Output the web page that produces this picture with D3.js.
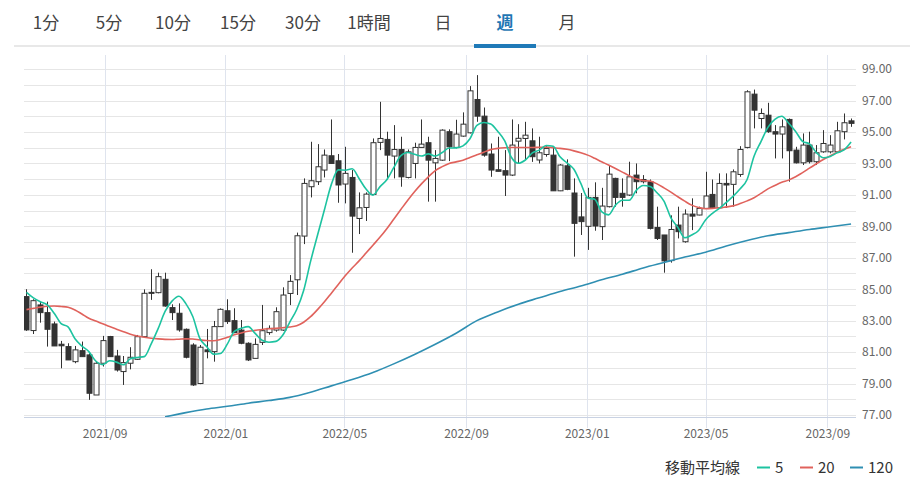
<!DOCTYPE html>
<html><head><meta charset="utf-8">
<script src="https://cdn.jsdelivr.net/npm/d3@7"></script>
<style>
html,body{margin:0;padding:0;background:#fff;}
svg{display:block;font-family:"Noto Sans CJK JP","Noto Sans",sans-serif;}
</style></head>
<body><svg id="c" width="916" height="488"></svg>
<script>
// ---------- data ----------
const tabs = ["1分","5分","10分","15分","30分","1時間","日","週","月"];
const activeTab = "週";
const firstWeek = "2021-06-14"; // weekly candles (Mondays)
const open  = [84.53,82.37,84.00,83.51,82.79,81.50,81.35,80.39,81.09,80.82,78.27,80.29,81.99,80.75,79.76,80.29,80.54,81.98,84.80,84.78,
85.63,83.83,83.47,82.45,81.45,79.00,81.14,81.03,82.62,83.63,83.00,82.40,81.56,80.60,81.62,82.24,82.40,82.40,84.73,85.60,
88.38,91.52,91.84,92.58,93.49,93.17,91.69,92.11,89.50,90.20,91.03,94.34,94.53,93.47,93.89,92.11,93.00,94.02,94.32,93.04,
93.21,95.02,94.02,94.74,94.95,97.07,96.01,93.60,92.60,92.54,92.26,94.42,94.59,94.44,93.22,93.57,93.53,91.26,92.85,91.12,
89.60,89.00,90.84,88.98,90.25,92.05,91.10,90.99,92.26,91.84,91.84,88.93,88.45,86.82,89.08,88.02,89.78,89.72,90.14,91.03,
90.18,91.73,91.67,92.30,94.02,97.41,95.86,96.07,95.02,94.87,95.80,93.85,93.04,94.17,93.11,93.74,93.74,93.74,95.02,95.71];
const high  = [85.00,84.36,84.21,84.21,82.94,81.71,81.56,81.39,81.67,80.92,80.39,82.03,82.03,81.14,80.75,81.31,82.09,84.99,86.27,86.05,
86.05,84.04,84.10,82.50,81.56,81.45,82.47,82.98,83.78,84.36,83.79,83.04,81.62,81.87,84.00,82.70,83.85,85.12,85.90,88.60,
92.05,94.38,94.23,93.89,95.80,93.60,94.06,92.58,91.16,91.16,94.59,96.92,95.02,95.44,94.70,93.89,94.32,95.80,94.70,93.85,
95.17,95.17,95.78,96.25,97.92,98.62,96.56,94.27,94.70,93.85,95.80,95.50,95.65,95.23,94.70,94.17,94.10,92.96,93.26,92.05,
91.12,91.45,91.80,91.45,92.85,92.09,92.05,93.11,93.00,92.26,91.98,90.25,88.45,89.70,90.25,90.08,90.78,90.25,92.47,91.98,
92.37,92.37,92.62,94.10,97.66,97.70,96.50,96.86,95.44,95.80,95.86,94.06,94.91,95.02,94.17,95.12,94.80,95.65,96.18,95.86];
const low   = [82.35,82.15,82.87,81.35,81.39,79.97,80.50,80.29,80.71,77.96,78.27,80.08,80.71,79.76,78.91,79.90,80.50,81.94,84.32,84.74,
83.89,83.04,82.30,80.60,78.85,78.96,80.60,80.39,82.62,82.79,82.20,81.50,80.43,80.60,81.45,82.10,82.30,82.35,83.99,84.63,
87.87,90.84,91.63,92.11,93.00,90.50,90.46,87.32,88.51,89.34,90.99,93.85,91.98,92.05,91.52,92.05,92.05,94.02,90.57,90.57,
93.17,93.15,93.96,94.70,94.91,95.65,93.43,92.15,92.50,90.93,92.20,93.00,93.21,93.10,93.00,93.43,91.26,91.24,91.30,87.07,
88.45,87.50,88.72,88.13,90.20,90.25,90.25,90.93,91.10,91.73,88.80,88.13,86.05,86.69,88.23,87.96,88.76,89.70,90.14,90.18,
90.14,90.18,90.25,92.15,93.96,95.23,95.23,94.95,93.32,93.32,91.84,93.00,92.90,93.00,92.90,93.68,93.64,93.68,94.53,95.33];
const close = [82.41,84.27,83.51,82.45,81.39,81.40,80.50,81.14,80.71,78.38,80.29,81.73,80.71,79.86,80.33,80.67,81.98,84.74,84.75,85.80,
83.93,83.51,82.41,80.67,78.91,81.31,81.03,82.62,83.72,82.94,82.24,81.56,80.50,81.49,82.36,82.51,83.57,84.63,85.50,88.40,
91.73,91.90,92.79,93.53,93.00,91.63,92.37,89.65,90.18,91.05,94.32,94.59,93.53,93.89,92.15,93.74,94.02,94.23,93.21,93.32,
95.12,94.06,94.87,95.50,97.62,96.01,93.53,92.58,92.50,92.26,94.17,94.60,94.80,93.43,93.68,93.95,91.26,92.90,91.35,89.19,
89.30,90.84,89.02,90.29,92.32,90.84,90.84,92.15,91.84,91.98,88.87,88.23,86.80,88.80,88.66,89.78,89.65,90.14,90.93,90.18,
91.73,91.63,92.47,93.89,97.56,96.39,96.18,95.02,94.87,95.33,93.81,93.04,94.17,93.11,93.68,94.27,94.17,95.08,95.59,95.55];
const ma5 = [84.80,84.45,84.20,84.00,83.47,82.81,82.60,81.85,81.38,81.03,80.43,80.20,80.45,80.36,80.19,80.58,80.66,80.71,81.52,82.49,
83.59,84.24,84.55,84.08,83.26,81.89,81.36,80.87,80.91,81.52,82.32,82.51,82.62,82.19,81.75,81.63,81.68,82.09,82.91,83.71,
84.92,86.77,88.43,90.06,91.67,92.59,92.57,92.66,92.04,91.37,90.98,91.51,91.96,92.73,93.48,93.70,93.58,93.47,93.61,93.47,
93.70,93.98,93.99,94.12,94.57,95.43,95.61,95.51,95.05,94.45,93.38,93.01,93.22,93.67,93.85,94.14,94.09,93.42,93.04,92.63,
91.73,90.80,90.72,89.94,89.73,90.35,90.66,90.66,91.29,91.60,91.53,91.14,90.61,89.54,88.94,88.27,88.45,88.74,89.41,89.83,
90.14,90.53,90.92,91.39,91.98,93.46,94.39,95.30,95.81,96.00,95.56,95.04,94.41,94.24,93.69,93.36,93.45,93.68,93.86,94.36];
const ma20 = [83.70,83.78,83.86,83.92,83.93,83.90,83.85,83.68,83.42,83.15,82.97,82.80,82.62,82.46,82.30,82.14,82.02,81.94,81.88,81.84,
81.81,81.80,81.82,81.84,81.83,81.78,81.74,81.72,81.80,81.94,82.10,82.22,82.32,82.38,82.44,82.48,82.51,82.55,82.60,82.68,
82.90,83.25,83.70,84.20,84.75,85.30,85.85,86.35,86.80,87.30,87.80,88.30,88.85,89.45,90.05,90.65,91.20,91.70,92.15,92.55,
92.80,93.00,93.10,93.20,93.38,93.55,93.72,93.88,93.96,94.00,94.02,94.02,94.02,94.02,94.03,94.04,94.00,93.96,93.90,93.80,
93.68,93.53,93.33,93.11,92.90,92.68,92.45,92.22,92.02,91.92,91.88,91.70,91.45,91.18,90.88,90.60,90.35,90.20,90.12,90.14,
90.18,90.24,90.30,90.45,90.62,90.82,91.10,91.38,91.60,91.80,91.94,92.15,92.42,92.70,92.98,93.25,93.48,93.72,93.90,94.06];
// 120-week MA, read at sampled weeks (hidden below the axis before week 20)
const ma120Week = [20,23,26,29,32,35,38,41,44,47,50,53,56,59,62,65,68,71,74,77,80,83,86,89,92,95,98,101,104,107,110,113,116,119];
const ma120 = [76.88,77.15,77.38,77.55,77.75,77.92,78.12,78.45,78.85,79.25,79.70,80.25,80.85,81.50,82.20,83.00,83.55,84.05,84.45,84.85,
85.20,85.60,85.95,86.35,86.70,87.05,87.35,87.75,88.10,88.40,88.60,88.80,88.97,89.15];
const yTicks = [77,79,81,83,85,87,89,91,93,95,97,99];
const legendLabel = "移動平均線";
const maNames = ["5","20","120"];
const maColors = ["#1dc3a0","#e0625c","#2f8fb2"];

// ---------- chart ----------
const svg = d3.select("#c");
svg.append("rect").attr("width",916).attr("height",488).attr("fill","#fff");

const L=24,R=856,T=55,B=417;
const t0 = d3.timeParse("%Y-%m-%d")(firstWeek);
const dates = close.map((_,i)=>d3.timeDay.offset(t0,7*i));
const x = d3.scaleTime().domain([new Date(2021,5,11,12), new Date(2023,8,30)]).range([L,R]);
const y = d3.scaleLinear().domain([76.87,99.9]).range([B,T]);

// tabs
const tabX = [46,109,173,238,303,369,443,505,567];
const tg = svg.append("g");
tg.append("rect").attr("x",14).attr("y",45).attr("width",896).attr("height",2).attr("fill","#e8e8e8");
tabs.forEach((t,i)=>{
  tg.append("text").attr("x",tabX[i]).attr("y",29).attr("text-anchor","middle")
    .attr("font-size",17).attr("font-weight",t===activeTab?700:400)
    .attr("fill",t===activeTab?"#1f77b4":"#444").text(t);
});
const ai = tabs.indexOf(activeTab);
tg.append("rect").attr("x",tabX[ai]-31).attr("y",44).attr("width",62).attr("height",4).attr("fill","#1f7ab8");

// horizontal grid
svg.append("g").selectAll("line").data(d3.range(77,100)).join("line")
  .attr("x1",L).attr("x2",R).attr("y1",d=>Math.round(y(d))+0.5).attr("y2",d=>Math.round(y(d))+0.5)
  .attr("stroke","#e6e6e6").attr("stroke-width",1);

// vertical grid + x axis
const xTicks = x.ticks(d3.timeMonth.every(4));
svg.append("g").selectAll("line").data(xTicks).join("line")
  .attr("x1",d=>Math.round(x(d))+0.5).attr("x2",d=>Math.round(x(d))+0.5).attr("y1",T).attr("y2",428)
  .attr("stroke","#dfe4ee").attr("stroke-width",1);
svg.append("line").attr("x1",L).attr("x2",R).attr("y1",B+0.5).attr("y2",B+0.5).attr("stroke","#c9d2e3");

const xAxis = d3.axisBottom(x).tickValues(xTicks).tickFormat(d3.timeFormat("%Y/%m")).tickSize(0).tickPadding(0);
const xa = svg.append("g").attr("transform",`translate(0,${B+12})`).call(xAxis);
xa.select(".domain").remove();
xa.selectAll("text").attr("font-size",12).attr("fill","#666").attr("font-family","'Noto Sans CJK JP',sans-serif");

const yAxis = d3.axisRight(y).tickValues(yTicks).tickFormat(d3.format(".2f")).tickSize(0).tickPadding(6);
const ya = svg.append("g").attr("transform",`translate(${R},0)`).call(yAxis);
ya.select(".domain").remove();
ya.selectAll("text").attr("font-size",12).attr("fill","#666").attr("font-family","'Noto Sans CJK JP',sans-serif");

// clip
svg.append("clipPath").attr("id","pc").append("rect").attr("x",L).attr("y",T).attr("width",R-L).attr("height",B-T);
const pg = svg.append("g").attr("clip-path","url(#pc)");

// candles
const bw = 5;
const cg = pg.append("g");
close.forEach((c,i)=>{
  const cx = Math.round(x(dates[i]))+0.5;
  const up = c >= open[i];
  cg.append("line").attr("x1",cx).attr("x2",cx).attr("y1",y(high[i])).attr("y2",y(low[i]))
    .attr("stroke","#333").attr("stroke-width",1);
  const top = y(Math.max(open[i],c)), bot = y(Math.min(open[i],c));
  cg.append("rect").attr("x",cx-bw/2).attr("y",top).attr("width",bw).attr("height",Math.max(1,bot-top))
    .attr("fill",up?"#fff":"#333").attr("stroke","#333").attr("stroke-width",1);
});

// moving averages
const line = d3.line().x(d=>x(d[0])).y(d=>y(d[1])).curve(d3.curveMonotoneX);
pg.append("path").attr("d",line(ma120.map((v,k)=>[dates[ma120Week[k]],v])))
  .attr("fill","none").attr("stroke",maColors[2]).attr("stroke-width",1.6);
pg.append("path").attr("d",line(ma20.map((v,i)=>[dates[i],v])))
  .attr("fill","none").attr("stroke",maColors[1]).attr("stroke-width",1.6);
pg.append("path").attr("d",line(ma5.map((v,i)=>[dates[i],v])))
  .attr("fill","none").attr("stroke",maColors[0]).attr("stroke-width",1.6);

// legend
const lg = svg.append("g").attr("font-size",15).attr("fill","#333");
lg.append("text").attr("x",665).attr("y",473).text(legendLabel);
const legX = [757,800,850];
maNames.forEach((n,i)=>{
  lg.append("line").attr("x1",legX[i]).attr("x2",legX[i]+13).attr("y1",467.5).attr("y2",467.5)
    .attr("stroke",maColors[i]).attr("stroke-width",2);
  lg.append("text").attr("x",legX[i]+18).attr("y",473).text(n);
});
</script></body></html>
